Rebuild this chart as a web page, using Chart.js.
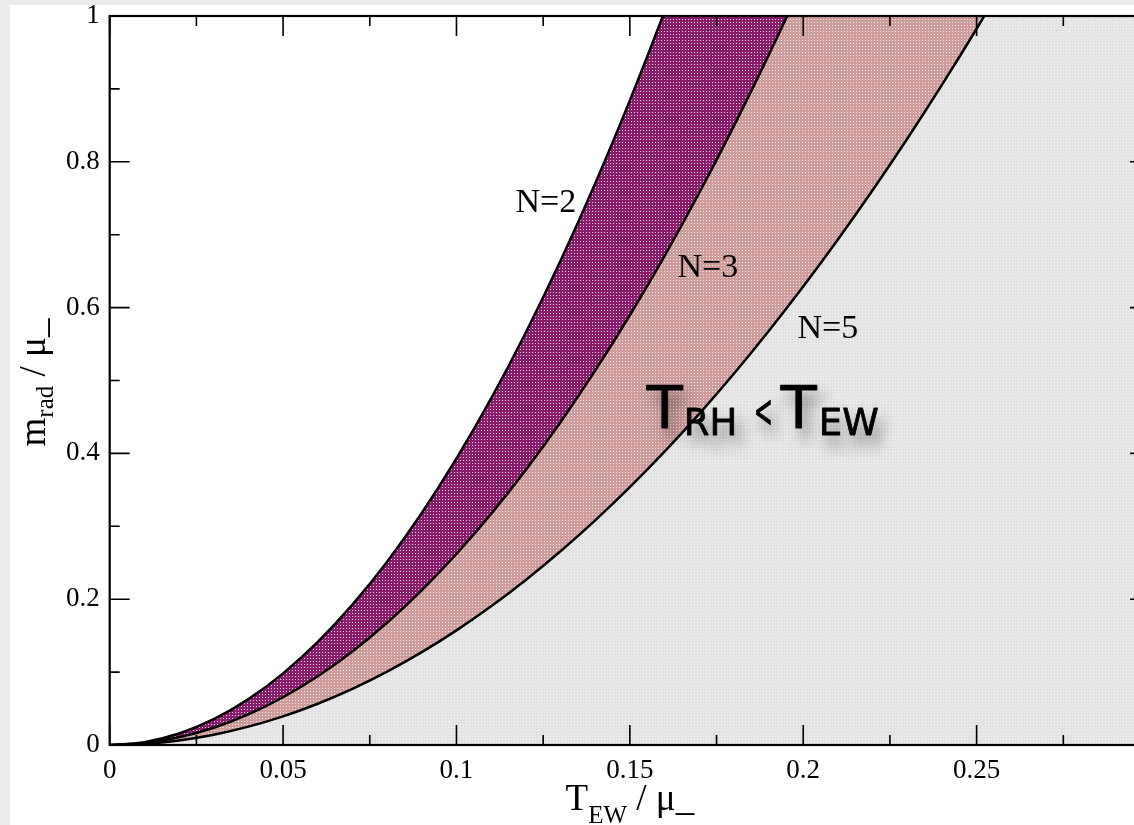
<!DOCTYPE html>
<html>
<head>
<meta charset="utf-8">
<script src="https://cdn.jsdelivr.net/npm/chart.js@4/dist/chart.umd.min.js"></script>
<style>
html,body{margin:0;padding:0;overflow:hidden;background:#ebebeb;}
#wrap{position:absolute;left:0;top:0;width:1134px;height:825px;overflow:hidden;}
canvas{display:block;}
</style>
</head>
<body>
<div id="wrap"><canvas id="c" width="1170" height="825"></canvas></div>
<script>
// ---- data ----
const tValues = [0,0.01,0.02,0.03,0.04,0.05,0.06,0.07,0.08,0.09,0.10,0.11,0.12,0.13,0.14,0.15,0.16,0.17,0.18,0.19,0.20,0.21,0.22,0.23,0.24,0.25,0.26,0.27,0.28,0.29,0.30];
const mN2 = [0,0.0039,0.0157,0.0354,0.0629,0.0983,0.1415,0.1926,0.2515,0.3183,0.393,0.4755,0.5659,0.6642,0.7703,0.8843,1.006,1.136,1.273,1.419,1.572,1.733,1.902,2.079,2.264,2.456,2.657,2.865,3.081,3.305,3.537];
const mN3 = [0,0.0026,0.0105,0.0236,0.0419,0.0655,0.0943,0.1284,0.1677,0.2122,0.262,0.317,0.3773,0.4428,0.5135,0.5895,0.6707,0.7572,0.8489,0.9458,1.048,1.155,1.268,1.386,1.509,1.638,1.771,1.910,2.054,2.203,2.358];
const mN5 = [0,0.0016,0.0063,0.0141,0.0252,0.0393,0.0566,0.077,0.1006,0.1273,0.1572,0.1902,0.2264,0.2657,0.3081,0.3537,0.4024,0.4543,0.5093,0.5675,0.6288,0.6933,0.7609,0.8316,0.9055,0.9825,1.063,1.146,1.232,1.322,1.415];
const xTickValues = [0,0.05,0.1,0.15,0.2,0.25,0.3];
const xTickLabels = ["0","0.05","0.1","0.15","0.2","0.25","0.3"];
const yTickValues = [0,0.2,0.4,0.6,0.8,1];
const yTickLabels = ["0","0.2","0.4","0.6","0.8","1"];
const curveLabels = ["N=2","N=3","N=5"];
const curveLabelPos = [[0.1258,0.7311],[0.1725,0.642],[0.2071,0.5583]];

const SERIF = '"Liberation Serif","Times New Roman",serif';
const canvas = document.getElementById('c');
const ctx0 = canvas.getContext('2d');
function makePattern(base, dot){
  const c = document.createElement('canvas'); c.width = 3; c.height = 3;
  const g = c.getContext('2d');
  g.fillStyle = base; g.fillRect(0,0,3,3);
  g.fillStyle = dot; g.fillRect(1,1,1,1);
  return ctx0.createPattern(c,'repeat');
}
const purple = makePattern('#8a1c6c','#efd3e6');
const pink = makePattern('#cf9c9c','#f5e6e6');
const gray = makePattern('#e3e3e3','#f7f7f7');

function pts(ys){ return tValues.map((t,i)=>({x:t,y:ys[i]})); }

function drawRich(ctx, parts, x, y, family){
  let w = 0;
  parts.forEach(p=>{ ctx.font = p.s+'px '+family; w += ctx.measureText(p.t).width; });
  let cx = x - w/2;
  ctx.textAlign = 'left'; ctx.textBaseline = 'alphabetic';
  parts.forEach(p=>{ ctx.font = p.s+'px '+family; ctx.fillText(p.t, cx, y + (p.dy||0)); cx += ctx.measureText(p.t).width; });
}

const bgPlugin = {
  id:'bg',
  beforeDraw(chart){
    const c = chart.ctx;
    c.save();
    c.fillStyle = '#ebebeb'; c.fillRect(0,0,chart.width,chart.height);
    c.fillStyle = '#ffffff'; c.fillRect(10,5,chart.width-10,chart.height-5);
    c.restore();
  }
};

const framePlugin = {
  id:'frame',
  afterDatasetsDraw(chart){
    const c = chart.ctx, a = chart.chartArea, xs = chart.scales.x, ys = chart.scales.y;
    c.save();
    c.strokeStyle = '#000'; c.lineWidth = 1.6;
    for (let i=0;i<xTickValues.length;i++){
      const px = xs.getPixelForValue(xTickValues[i]);
      c.beginPath(); c.moveTo(px,a.bottom); c.lineTo(px,a.bottom-20); c.moveTo(px,a.top); c.lineTo(px,a.top+20); c.stroke();
      if (i < xTickValues.length-1){
        const pm = xs.getPixelForValue((xTickValues[i]+xTickValues[i+1])/2);
        c.beginPath(); c.moveTo(pm,a.bottom); c.lineTo(pm,a.bottom-10); c.moveTo(pm,a.top); c.lineTo(pm,a.top+10); c.stroke();
      }
    }
    for (let i=0;i<yTickValues.length;i++){
      const py = ys.getPixelForValue(yTickValues[i]);
      c.beginPath(); c.moveTo(a.left,py); c.lineTo(a.left+20,py); c.moveTo(a.right,py); c.lineTo(a.right-20,py); c.stroke();
      if (i < yTickValues.length-1){
        const pm = ys.getPixelForValue((yTickValues[i]+yTickValues[i+1])/2);
        c.beginPath(); c.moveTo(a.left,pm); c.lineTo(a.left+10,pm); c.moveTo(a.right,pm); c.lineTo(a.right-10,pm); c.stroke();
      }
    }
    c.lineWidth = 2.2;
    c.strokeRect(a.left, a.top, a.right-a.left, a.bottom-a.top);

    // curve labels
    c.fillStyle = '#000';
    c.font = '34px '+SERIF; c.textAlign = 'center'; c.textBaseline = 'alphabetic';
    curveLabels.forEach((lab,i)=>{
      c.fillText(lab, xs.getPixelForValue(curveLabelPos[i][0]), ys.getPixelForValue(curveLabelPos[i][1]));
    });

    // region annotation with shadow
    const ax = xs.getPixelForValue(0.1549), ay = ys.getPixelForValue(0.4348);
    const HAND = '"DejaVu Sans",sans-serif';
    const pieces = [
      {t:'T',s:59,dx:0,dy:0,sx:1},
      {t:'RH',s:37,dx:37,dy:7,sx:1},
      {t:'<',s:46,dx:107,dy:-1,sx:0.5},
      {t:'T',s:59,dx:134,dy:0,sx:1},
      {t:'EW',s:37,dx:172,dy:7,sx:1}
    ];
    c.textAlign = 'left';
    c.strokeStyle = '#000'; c.lineWidth = 0.8; c.lineJoin = 'round';
    c.shadowColor = 'rgba(0,0,0,0.5)'; c.shadowBlur = 14; c.shadowOffsetX = 6; c.shadowOffsetY = 11;
    pieces.forEach(p=>{
      c.save();
      c.translate(ax+p.dx, ay+p.dy);
      c.scale(p.sx,1);
      c.font = p.s+'px '+HAND; c.fillText(p.t, 0, 0);
      c.restore();
    });
    c.shadowColor = 'transparent'; c.shadowBlur = 0; c.shadowOffsetX = 0; c.shadowOffsetY = 0;
    pieces.forEach(p=>{
      c.save();
      c.translate(ax+p.dx, ay+p.dy);
      c.scale(p.sx,1);
      c.font = p.s+'px '+HAND; c.strokeText(p.t, 0, 0);
      c.restore();
    });

    // axis titles
    const cxT = (a.left + a.right)/2;
    drawRich(c, [{t:'T',s:37},{t:'EW',s:25,dy:13},{t:' / μ_',s:37}], cxT, 810, SERIF);
    c.save();
    c.translate(45, (a.top+a.bottom)/2 + 2);
    c.rotate(-Math.PI/2);
    drawRich(c, [{t:'m',s:37},{t:'rad',s:25,dy:8},{t:' / μ_',s:37}], 0, 0, SERIF);
    c.restore();
    c.restore();
  }
};

new Chart(canvas, {
  type:'line',
  data:{
    datasets:[
      {label:'N=5', data:pts(mN5), borderColor:'#000', borderWidth:2.5, pointRadius:0, fill:'origin', backgroundColor:gray, cubicInterpolationMode:'monotone'},
      {label:'N=3', data:pts(mN3), borderColor:'#000', borderWidth:2.5, pointRadius:0, fill:'-1', backgroundColor:pink, cubicInterpolationMode:'monotone'},
      {label:'N=2', data:pts(mN2), borderColor:'#000', borderWidth:2.5, pointRadius:0, fill:'-1', backgroundColor:purple, cubicInterpolationMode:'monotone'}
    ]
  },
  options:{
    responsive:false, animation:false, devicePixelRatio:1,
    layout:{padding:{left:0,top:16,right:20,bottom:0}},
    plugins:{legend:{display:false}, tooltip:{enabled:false}},
    scales:{
      x:{type:'linear', position:'bottom', min:0, max:0.3,
         afterFit(s){ s.height = 80; s.paddingLeft = 0; s.paddingRight = 0; },
         grid:{display:false, drawTicks:false}, border:{display:false},
         ticks:{stepSize:0.05, autoSkip:false, maxRotation:0, padding:10, color:'#000',
                font:{family:SERIF, size:27},
                callback(v){ const i = xTickValues.findIndex(t=>Math.abs(t-v)<1e-9); return i>=0 ? xTickLabels[i] : ''; }}},
      y:{type:'linear', position:'left', min:0, max:1,
         afterFit(s){ s.width = 109.7; s.paddingTop = 0; s.paddingBottom = 0; },
         grid:{display:false, drawTicks:false}, border:{display:false},
         ticks:{stepSize:0.2, padding:10, color:'#000',
                font:{family:SERIF, size:27},
                callback(v){ const i = yTickValues.findIndex(t=>Math.abs(t-v)<1e-9); return i>=0 ? yTickLabels[i] : ''; }}}
    }
  },
  plugins:[bgPlugin, framePlugin]
});
</script>
</body>
</html>
